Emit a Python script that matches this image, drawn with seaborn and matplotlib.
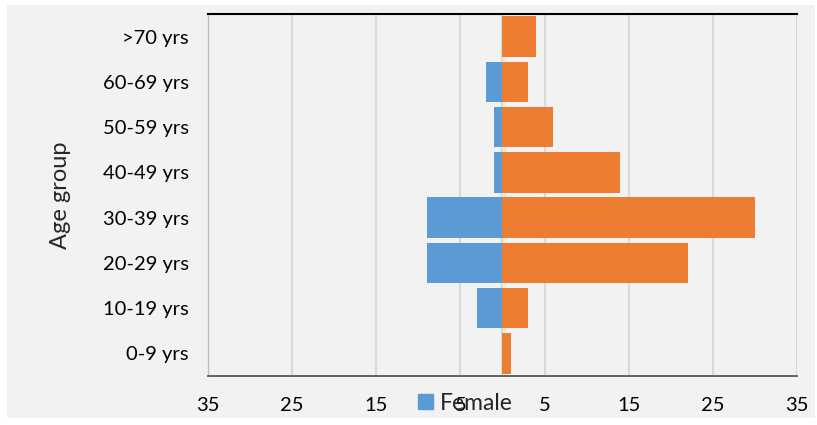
import pandas as pd
import matplotlib.pyplot as plt
import seaborn as sns
from matplotlib.patches import Rectangle, Patch
from matplotlib.ticker import FuncFormatter

# Altersgruppen (oben nach unten)
age_groups = ['>70 yrs', '60-69 yrs', '50-59 yrs', '40-49 yrs',
              '30-39 yrs', '20-29 yrs', '10-19 yrs', '0-9 yrs']
male = [4, 3, 6, 14, 30, 22, 3, 1]
female = [0, 2, 1, 1, 9, 9, 3, 0]
xtick_values = [-35, -25, -15, -5, 5, 15, 25, 35]

blue = '#5B9BD5'
orange = '#ED7D31'

df = pd.concat([
    pd.DataFrame({'Age group': age_groups, 'value': [-v for v in female], 'sex': 'Female'}),
    pd.DataFrame({'Age group': age_groups, 'value': male, 'sex': 'Male'}),
])

sns.set_style('white')
plt.rcParams['font.family'] = ['Lato', 'DejaVu Sans']

fig = plt.figure(figsize=(8.17, 4.25), dpi=100, facecolor='white')
fig.patches.append(Rectangle((7 / 817, 1 - 418 / 425), 808 / 817, 413 / 425,
                             transform=fig.transFigure, facecolor='#F2F2F2',
                             edgecolor='none', zorder=-10))
ax = fig.add_axes([208 / 817, 1 - 376 / 425, 589 / 817, 362 / 425])
ax.set_facecolor('#F2F2F2')

sns.barplot(data=df, x='value', y='Age group', hue='sex', order=age_groups,
            palette={'Female': blue, 'Male': orange}, dodge=False, saturation=1,
            width=0.89, orient='h', legend=False, linewidth=0, ax=ax, zorder=3)

ax.set_xlim(-35, 35)
ax.set_xticks(xtick_values)
ax.xaxis.set_major_formatter(FuncFormatter(lambda v, p: f'{abs(int(v))}'))
ax.grid(axis='x', color='#D9D9D9', linewidth=1.5, zorder=0)
ax.axvline(0, color='#D9D9D9', linewidth=1.5, zorder=1)
ax.set_axisbelow(True)

ax.tick_params(axis='x', length=0, pad=15, labelsize=14.5, labelcolor='black')
ax.tick_params(axis='y', length=0, pad=14, labelsize=14.5, labelcolor='black')
ax.set_xlabel('')
ax.set_ylabel('Age group', fontsize=17)
ax.yaxis.set_label_coords(-0.233, 0.5)

ax.spines['top'].set_color('black')
ax.spines['top'].set_linewidth(1.5)
ax.spines['bottom'].set_color('#595959')
ax.spines['bottom'].set_linewidth(1.3)
ax.spines['left'].set_color('#BFBFBF')
ax.spines['left'].set_linewidth(1)
ax.spines['right'].set_visible(False)

fig.legend(handles=[Patch(color=blue, label='Female')], loc='center left',
           bbox_to_anchor=(397 / 817, 1 - 403 / 425), frameon=False,
           fontsize=16.5, handlelength=0.65, handleheight=0.65, handletextpad=0.3)

fig.savefig('out.png', dpi=100, facecolor='white')
